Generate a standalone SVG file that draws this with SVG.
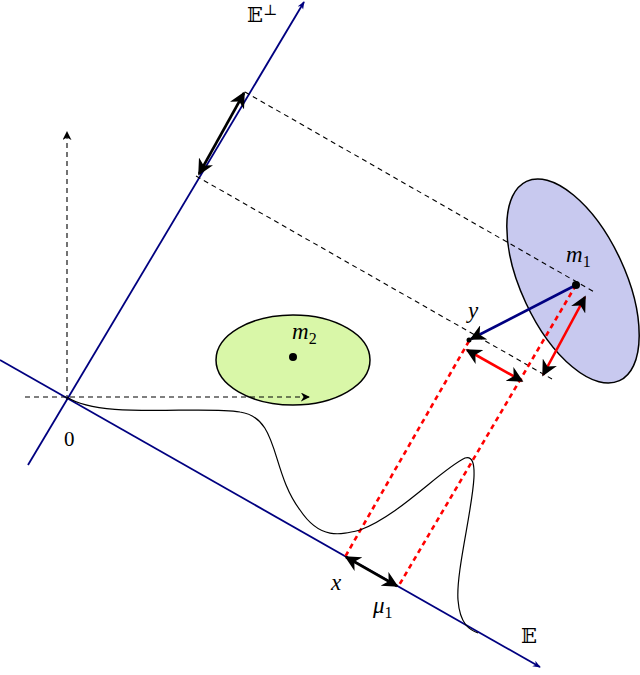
<svg xmlns="http://www.w3.org/2000/svg" width="640" height="675" viewBox="0 0 640 675">
<style>
.ax{stroke:#000080;stroke-width:1.8;fill:none}
.dash{stroke:#000;stroke-width:1.1;stroke-dasharray:5,4;fill:none}
.red{stroke:#f00;stroke-width:2.6;stroke-dasharray:5,4;fill:none}
.t{font-family:"Liberation Serif","DejaVu Serif",serif;font-size:23px;font-style:italic}
.bb{font-family:"DejaVu Serif","DejaVu Sans",serif;font-size:21px}
</style>
<defs>
<marker id="ab" viewBox="0 0 10 10" refX="9" refY="5" markerWidth="8" markerHeight="8" orient="auto-start-reverse" markerUnits="userSpaceOnUse"><path d="M0,1 L10,5 L0,9 L3,5z" fill="#000080"/></marker>
<marker id="ak" viewBox="0 0 10 10" refX="9" refY="5" markerWidth="9" markerHeight="9" orient="auto-start-reverse" markerUnits="userSpaceOnUse"><path d="M0,0 L10,5 L0,10 L3,5z" fill="#000"/></marker>
<marker id="ak2" viewBox="0 0 10 10" refX="9" refY="5" markerWidth="16" markerHeight="16" orient="auto-start-reverse" markerUnits="userSpaceOnUse"><path d="M0,0 L10,5 L0,10 L3,5z" fill="#000"/></marker>
</defs>
<g id="m1-region"><ellipse cx="573" cy="281" rx="52" ry="110" transform="rotate(-25 573 281)" fill="#c8c9ef" stroke="#000" stroke-width="1.5"/></g>
<g id="m2-region"><ellipse cx="293" cy="360" rx="77" ry="45" fill="#d9f7a8" stroke="#000" stroke-width="1.5"/></g>
<g id="connectors">
<path class="ax" d="M0,360 L540,667" marker-end="url(#ab)"/>
<path class="ax" d="M28,465 L304,2" marker-end="url(#ab)"/>
<path class="dash" d="M67,400 L67,132" marker-end="url(#ak)"/>
<path class="dash" d="M25,397 L309,397" marker-end="url(#ak)"/>
<path class="dash" d="M245,92 L596,293"/>
<path class="dash" d="M196,176 L552,379"/>
<path class="red" d="M469,341 L345,557"/>
<path class="red" d="M576,285 L398,587"/>
<path d="M67,397 C100,420 200,405 240,412 C280,418 270,470 300,510 C320,540 340,535 360,530 C400,515 440,470 465,458 C490,450 455,560 458,600 C460,625 470,630 478,633" fill="none" stroke="#000" stroke-width="1.2"/>
<path d="M244,93 L199,174" stroke="#000" stroke-width="2.6" marker-start="url(#ak2)" marker-end="url(#ak2)"/>
<path d="M346,557 L397,586" stroke="#000" stroke-width="2.6" marker-start="url(#ak2)" marker-end="url(#ak2)"/>
<path d="M467,350 L522,381" stroke="#f00" stroke-width="2.6" marker-start="url(#ak2)" marker-end="url(#ak2)"/>
<path d="M585,297 L543,375" stroke="#f00" stroke-width="2.6" marker-start="url(#ak2)" marker-end="url(#ak2)"/>
<path d="M576,285 L471,339" stroke="#000080" stroke-width="2.6" marker-end="url(#ak2)"/>
</g>
<g id="points">
<circle cx="576" cy="285" r="4"/>
<circle cx="293" cy="357" r="4"/>
<circle cx="469" cy="340" r="2.5"/>
</g>
<g id="labels">
<text class="bb" x="247" y="22">𝔼<tspan font-size="15" dy="-7">⊥</tspan></text>
<text class="bb" x="521" y="643">𝔼</text>
<text x="64" y="446" font-family="Liberation Serif,serif" font-size="21">0</text>
<text class="t" x="292" y="339">m<tspan font-size="16" font-style="normal" dy="5">2</tspan></text>
<text class="t" x="566" y="262">m<tspan font-size="16" font-style="normal" dy="5">1</tspan></text>
<text class="t" x="468" y="318">y</text>
<text class="t" x="331" y="590">x</text>
<text class="t" x="373" y="613">μ<tspan font-size="16" font-style="normal" dy="5">1</tspan></text>
</g>
</svg>
